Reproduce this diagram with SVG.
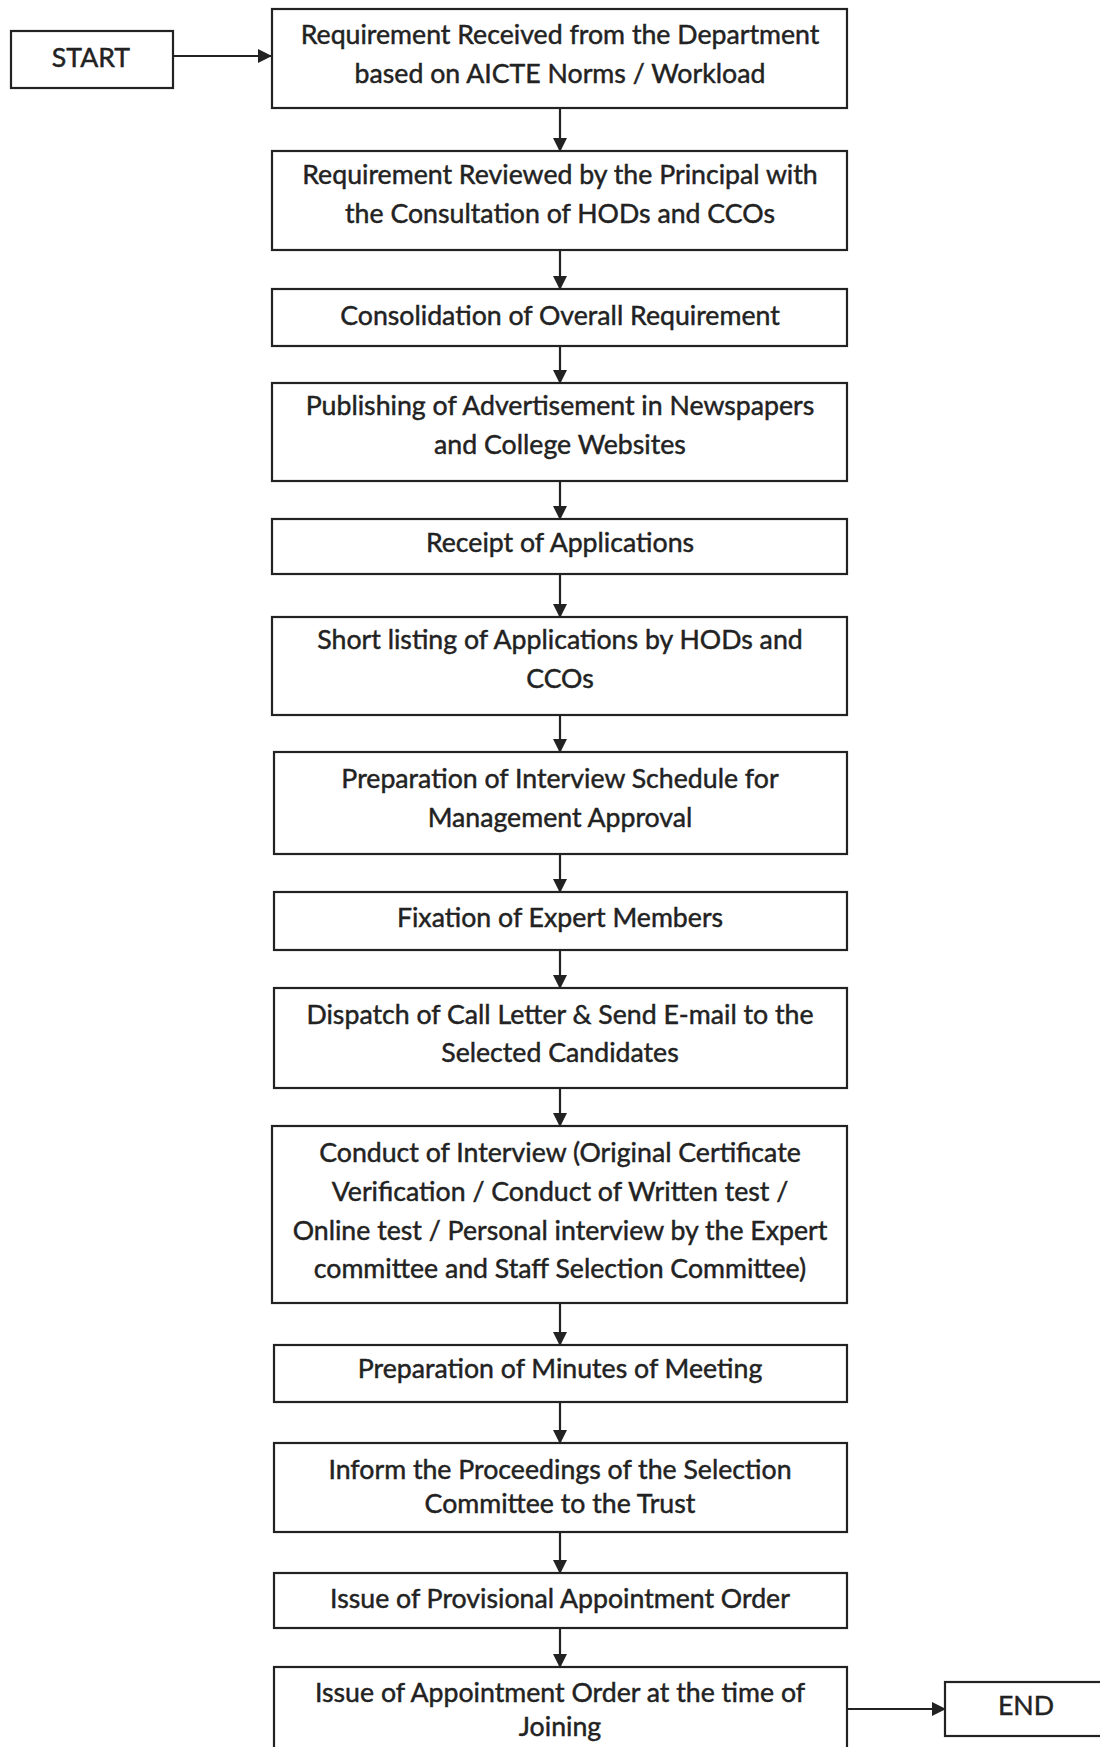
<svg xmlns="http://www.w3.org/2000/svg" width="1100" height="1747" viewBox="0 0 1100 1747">
<style>
.box{fill:#fff;stroke:#222;stroke-width:2.2}
.t{font-family:Lato,"Open Sans","Liberation Sans",sans-serif;font-size:26.7px;fill:#222;stroke:#222;stroke-width:0.45;text-anchor:middle}
.c{stroke:#222;stroke-width:2.2;fill:none}
</style>
<defs>
<marker id="ah" markerWidth="14" markerHeight="14" refX="13" refY="7" orient="auto" markerUnits="userSpaceOnUse">
<path d="M0,0 L14,7 L0,14 Z" fill="#222"/>
</marker>
</defs>
<rect width="1100" height="1747" fill="#fff"/>
<g id="connectors">
<line class="c" x1="173" y1="56" x2="271" y2="56" marker-end="url(#ah)"/>
<line class="c" x1="560" y1="108" x2="560" y2="151" marker-end="url(#ah)"/>
<line class="c" x1="560" y1="250" x2="560" y2="289" marker-end="url(#ah)"/>
<line class="c" x1="560" y1="346" x2="560" y2="383" marker-end="url(#ah)"/>
<line class="c" x1="560" y1="481" x2="560" y2="519" marker-end="url(#ah)"/>
<line class="c" x1="560" y1="574" x2="560" y2="617" marker-end="url(#ah)"/>
<line class="c" x1="560" y1="715" x2="560" y2="752" marker-end="url(#ah)"/>
<line class="c" x1="560" y1="854" x2="560" y2="892" marker-end="url(#ah)"/>
<line class="c" x1="560" y1="950" x2="560" y2="988" marker-end="url(#ah)"/>
<line class="c" x1="560" y1="1088" x2="560" y2="1126" marker-end="url(#ah)"/>
<line class="c" x1="560" y1="1303" x2="560" y2="1345" marker-end="url(#ah)"/>
<line class="c" x1="560" y1="1402" x2="560" y2="1443" marker-end="url(#ah)"/>
<line class="c" x1="560" y1="1532" x2="560" y2="1573" marker-end="url(#ah)"/>
<line class="c" x1="560" y1="1628" x2="560" y2="1667" marker-end="url(#ah)"/>
<line class="c" x1="847" y1="1709" x2="945" y2="1709" marker-end="url(#ah)"/>
</g>
<g id="start">
<rect class="box" x="11" y="31" width="162" height="57"/>
<text class="t" x="91" y="67">START</text>
</g>
<g id="n1">
<rect class="box" x="272" y="9" width="575" height="99"/>
<text class="t" x="560" y="44">Requirement Received from the Department</text>
<text class="t" x="560" y="83">based on AICTE Norms / Workload</text>
</g>
<g id="n2">
<rect class="box" x="272" y="151" width="575" height="99"/>
<text class="t" x="560" y="184">Requirement Reviewed by the Principal with</text>
<text class="t" x="560" y="223">the Consultation of HODs and CCOs</text>
</g>
<g id="n3">
<rect class="box" x="272" y="289" width="575" height="57"/>
<text class="t" x="560" y="325">Consolidation of Overall Requirement</text>
</g>
<g id="n4">
<rect class="box" x="272" y="383" width="575" height="98"/>
<text class="t" x="560" y="415">Publishing of Advertisement in Newspapers</text>
<text class="t" x="560" y="454">and College Websites</text>
</g>
<g id="n5">
<rect class="box" x="272" y="519" width="575" height="55"/>
<text class="t" x="560" y="552">Receipt of Applications</text>
</g>
<g id="n6">
<rect class="box" x="272" y="617" width="575" height="98"/>
<text class="t" x="560" y="649">Short listing of Applications by HODs and</text>
<text class="t" x="560" y="688">CCOs</text>
</g>
<g id="n7">
<rect class="box" x="274" y="752" width="573" height="102"/>
<text class="t" x="560" y="788">Preparation of Interview Schedule for</text>
<text class="t" x="560" y="827">Management Approval</text>
</g>
<g id="n8">
<rect class="box" x="274" y="892" width="573" height="58"/>
<text class="t" x="560" y="927">Fixation of Expert Members</text>
</g>
<g id="n9">
<rect class="box" x="274" y="988" width="573" height="100"/>
<text class="t" x="560" y="1024">Dispatch of Call Letter &amp; Send E-mail to the</text>
<text class="t" x="560" y="1062">Selected Candidates</text>
</g>
<g id="n10">
<rect class="box" x="272" y="1126" width="575" height="177"/>
<text class="t" x="560" y="1162">Conduct of Interview (Original Certificate</text>
<text class="t" x="560" y="1201">Verification / Conduct of Written test /</text>
<text class="t" x="560" y="1240">Online test / Personal interview by the Expert</text>
<text class="t" x="560" y="1278">committee and Staff Selection Committee)</text>
</g>
<g id="n11">
<rect class="box" x="274" y="1345" width="573" height="57"/>
<text class="t" x="560" y="1378">Preparation of Minutes of Meeting</text>
</g>
<g id="n12">
<rect class="box" x="274" y="1443" width="573" height="89"/>
<text class="t" x="560" y="1479">Inform the Proceedings of the Selection</text>
<text class="t" x="560" y="1513">Committee to the Trust</text>
</g>
<g id="n13">
<rect class="box" x="274" y="1573" width="573" height="55"/>
<text class="t" x="560" y="1608">Issue of Provisional Appointment Order</text>
</g>
<g id="n14">
<rect class="box" x="274" y="1667" width="573" height="100"/>
<text class="t" x="560" y="1702">Issue of Appointment Order at the time of</text>
<text class="t" x="560" y="1736">Joining</text>
</g>
<g id="end">
<rect class="box" x="945" y="1682" width="170" height="54"/>
<text class="t" x="1026" y="1715">END</text>
</g>
</svg>
